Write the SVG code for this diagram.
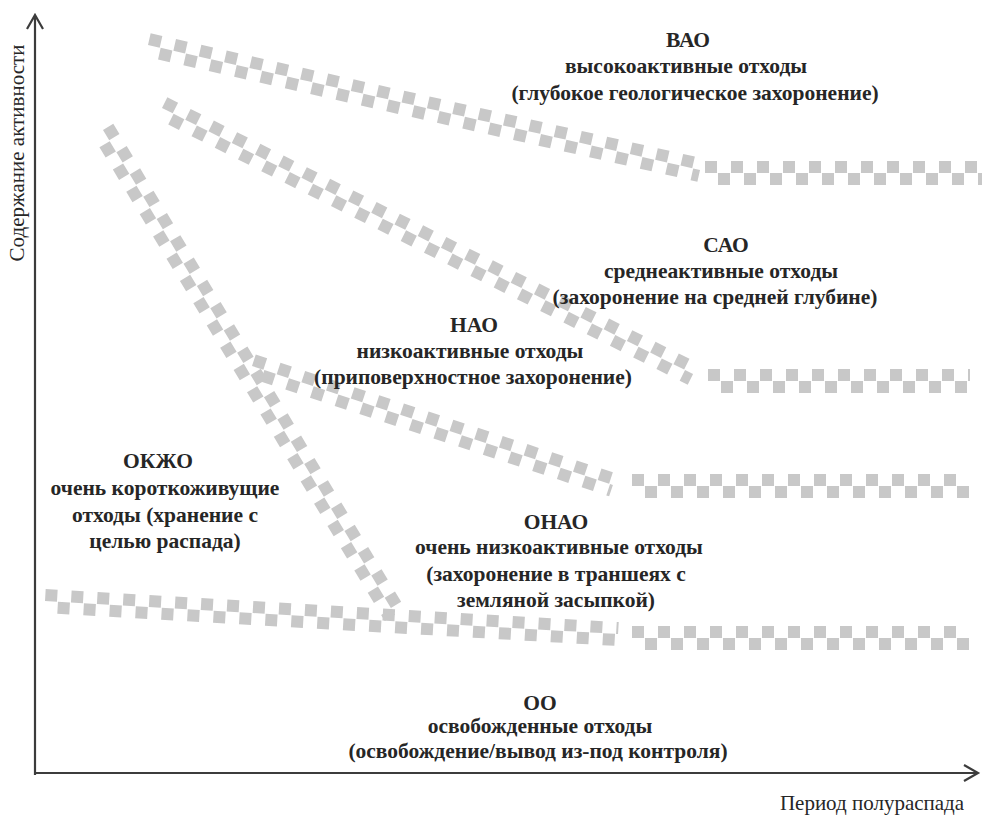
<svg xmlns="http://www.w3.org/2000/svg" width="982" height="823" viewBox="0 0 982 823">
<style>
.bd line{stroke:#c8c8c8;stroke-width:12;stroke-dasharray:12 14;fill:none}
.bd line.b{stroke-dashoffset:13}
.ax{stroke:#3c3c3c;stroke-width:2.2;fill:none}
text{font-family:'Liberation Serif','Times New Roman',serif;fill:#262626;text-anchor:middle}
.t{font-weight:bold;font-size:21.5px}
.a{font-size:21px}
</style>
<g id="bands" class="bd">
<g transform="translate(148,45) rotate(12.76)"><line x1="0" y1="-6" x2="566" y2="-6"/><line class="b" x1="0" y1="6" x2="566" y2="6"/></g>
<g transform="translate(705,173)"><line x1="0" y1="-6" x2="277" y2="-6"/><line class="b" x1="0" y1="6" x2="277" y2="6"/></g>
<g transform="translate(162,108) rotate(26.61)"><line x1="0" y1="-6" x2="594" y2="-6"/><line class="b" x1="0" y1="6" x2="594" y2="6"/></g>
<g transform="translate(708,381)"><line x1="0" y1="-6" x2="262" y2="-6"/><line class="b" x1="0" y1="6" x2="262" y2="6"/></g>
<g transform="translate(252,366) rotate(18.24)"><line x1="0" y1="-6" x2="380" y2="-6"/><line class="b" x1="0" y1="6" x2="380" y2="6"/></g>
<g transform="translate(632,486)"><line x1="0" y1="-6" x2="338" y2="-6"/><line class="b" x1="0" y1="6" x2="338" y2="6"/></g>
<g transform="translate(103,130) rotate(58.94)"><line x1="0" y1="-6" x2="566" y2="-6"/><line class="b" x1="0" y1="6" x2="566" y2="6"/></g>
<g transform="translate(45,601) rotate(3.3)"><line x1="0" y1="-6" x2="574" y2="-6"/><line class="b" x1="0" y1="6" x2="574" y2="6"/></g>
<g transform="translate(632,638)"><line x1="0" y1="-6" x2="338" y2="-6"/><line class="b" x1="0" y1="6" x2="338" y2="6"/></g>
</g>
<g id="axes">
<path class="ax" d="M35,775 V15 M27,29 L35,15 L43,29"/>
<path class="ax" d="M34,773 H978 M964,765 L978,773 L964,781"/>
<text class="a" transform="translate(24,153) rotate(-90)">Содержание активности</text>
<text class="a" x="872" y="810">Период полураспада</text>
</g>
<g id="vao"><text class="t" x="688" y="47">ВАО</text><text class="t" x="686" y="73">высокоактивные отходы</text><text class="t" x="695" y="100">(глубокое геологическое захоронение)</text></g>
<g id="sao"><text class="t" x="726" y="252">САО</text><text class="t" x="721" y="278">среднеактивные отходы</text><text class="t" x="715" y="304">(захоронение на средней глубине)</text></g>
<g id="nao"><text class="t" x="474" y="332">НАО</text><text class="t" x="470" y="358">низкоактивные отходы</text><text class="t" x="473" y="384">(приповерхностное захоронение)</text></g>
<g id="okzho"><text class="t" x="158" y="468">ОКЖО</text><text class="t" x="165" y="495">очень короткоживущие</text><text class="t" x="165" y="522">отходы (хранение с</text><text class="t" x="165" y="548">целью распада)</text></g>
<g id="onao"><text class="t" x="556" y="529">ОНАО</text><text class="t" x="559" y="554">очень низкоактивные отходы</text><text class="t" x="556" y="581">(захоронение в траншеях с</text><text class="t" x="556" y="607">земляной засыпкой)</text></g>
<g id="oo"><text class="t" x="540" y="710">ОО</text><text class="t" x="540" y="733">освобожденные отходы</text><text class="t" x="538" y="758">(освобождение/вывод из-под контроля)</text></g>
</svg>
